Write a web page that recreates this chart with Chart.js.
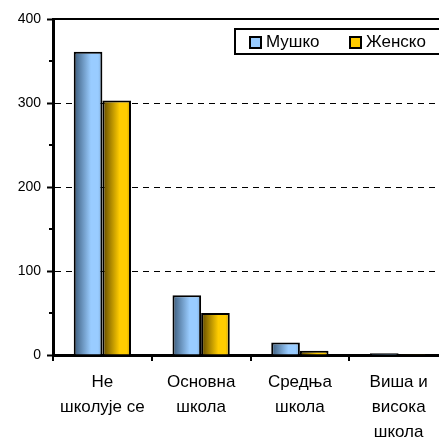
<!DOCTYPE html>
<html lang="sr">
<head>
    <meta charset="UTF-8" />
    <title>Школовање</title>
    <script src="https://cdn.jsdelivr.net/npm/chart.js"></script>
    <style>
        html, body { margin: 0; padding: 0; background: #fff; overflow: hidden; }
        #wrap { width: 470px; height: 438px; }
    </style>
</head>
<body>
    <div id="wrap"><canvas id="chart" width="470" height="438"></canvas></div>

    <script>
        const categories = [["Не", "школује се"], ["Основна", "школа"], ["Средња", "школа"], ["Виша и", "висока", "школа"]];
        const seriesNames = ["Мушко", "Женско"];
        const male = [361, 71, 15, 2];
        const female = [303, 50, 5, 1];
        const yMax = 400;

        // colour stops per series: dark edge, light middle, shaded right edge
        const gradStops = [
            ["#3a5a7a", "#99ccff", "#7da9d6"],
            ["#5c4600", "#ffcc00", "#c89c00"]
        ];
        const fontFam = "'Liberation Sans', Arial, sans-serif";

        function barFill(ctx) {
            const chart = ctx.chart;
            const flat = gradStops[ctx.datasetIndex][1];
            const el = ctx.element;
            if (!chart.chartArea || !el || !isFinite(el.x) || !isFinite(el.width)) {
                // fall back to scale based estimate
                const x = chart.scales.x;
                if (!x || !chart.chartArea || ctx.dataIndex === undefined) return flat;
                const center = x.getPixelForValue(ctx.dataIndex);
                if (!isFinite(center)) return flat;
                const w = x.width / categories.length * 0.58 / 2;
                return makeGrad(chart, center - w + ctx.datasetIndex * w, w, ctx.datasetIndex);
            }
            return makeGrad(chart, el.x - el.width / 2, el.width, ctx.datasetIndex);
        }

        function makeGrad(chart, left, w, i) {
            const g = chart.ctx.createLinearGradient(left, 0, left + w, 0);
            const s = gradStops[i];
            g.addColorStop(0, s[0]);
            g.addColorStop(0.6, s[1]);
            g.addColorStop(0.85, s[1]);
            g.addColorStop(1, s[2]);
            return g;
        }

        const frameAndLegend = {
            id: "frameAndLegend",
            afterDatasetsDraw(chart) {
                const c = chart.ctx;
                const a = chart.chartArea;
                c.save();
                // top border of plot area
                c.strokeStyle = "#000";
                c.lineWidth = 2;
                c.beginPath();
                c.moveTo(a.left, a.top);
                c.lineTo(a.right, a.top);
                c.stroke();
                // minor ticks on y axis
                const y = chart.scales.y;
                for (let v = 50; v < yMax; v += 100) {
                    const py = Math.round(y.getPixelForValue(v));
                    c.beginPath();
                    c.moveTo(a.left - 4, py);
                    c.lineTo(a.left, py);
                    c.stroke();
                }
                // legend box
                c.fillStyle = "#fff";
                c.fillRect(235, 29, 220, 25);
                c.strokeRect(235, 29, 220, 25);
                c.font = "17px " + fontFam;
                c.textBaseline = "middle";
                const items = [[249, 266], [349, 366]];
                seriesNames.forEach((name, i) => {
                    c.fillStyle = gradStops[i][1];
                    c.fillRect(items[i][0] + 1, 37, 11, 11);
                    c.strokeRect(items[i][0] + 1, 37, 11, 11);
                    c.fillStyle = "#000";
                    c.fillText(name, items[i][1], 42);
                });
                c.restore();
            }
        };

        const barStyle = {
            backgroundColor: barFill,
            borderColor: "#000",
            borderWidth: 2,
            borderSkipped: "bottom",
            categoryPercentage: 0.58,
            barPercentage: 1
        };

        new Chart(document.getElementById("chart"), {
            type: "bar",
            data: {
                labels: categories,
                datasets: [
                    Object.assign({ label: seriesNames[0], data: male }, barStyle),
                    Object.assign({ label: seriesNames[1], data: female }, barStyle)
                ]
            },
            options: {
                responsive: false,
                animation: false,
                layout: { padding: { top: 19, right: 22, left: 0, bottom: 0 } },
                plugins: {
                    legend: { display: false },
                    tooltip: { enabled: false }
                },
                scales: {
                    x: {
                        grid: {
                            offset: true,
                            drawOnChartArea: false,
                            color: "#000",
                            tickLength: 6,
                            lineWidth: 2
                        },
                        border: { color: "#000", width: 3 },
                        ticks: {
                            color: "#000",
                            font: { family: fontFam, size: 17, lineHeight: 1.47 },
                            padding: 9,
                            maxRotation: 0,
                            autoSkip: false
                        },
                        afterFit(s) { s.height = 83; }
                    },
                    y: {
                        min: 0,
                        max: yMax,
                        ticks: {
                            stepSize: 100,
                            color: "#000",
                            font: { family: fontFam, size: 14 },
                            padding: 6
                        },
                        grid: {
                            color: (ctx) => (ctx.tick && ctx.tick.value > 0 && ctx.tick.value < yMax) ? "#000" : "rgba(0,0,0,0)",
                            tickColor: "#000",
                            tickLength: 6,
                            lineWidth: 1,
                            tickWidth: 2,
                            tickBorderDash: [],
                            borderDash: [6, 5]
                        },
                        border: { color: "#000", width: 3, dash: [6, 5] },
                        afterFit(s) { s.width = 53; }
                    }
                }
            },
            plugins: [frameAndLegend]
        });
    </script>
</body>
</html>
